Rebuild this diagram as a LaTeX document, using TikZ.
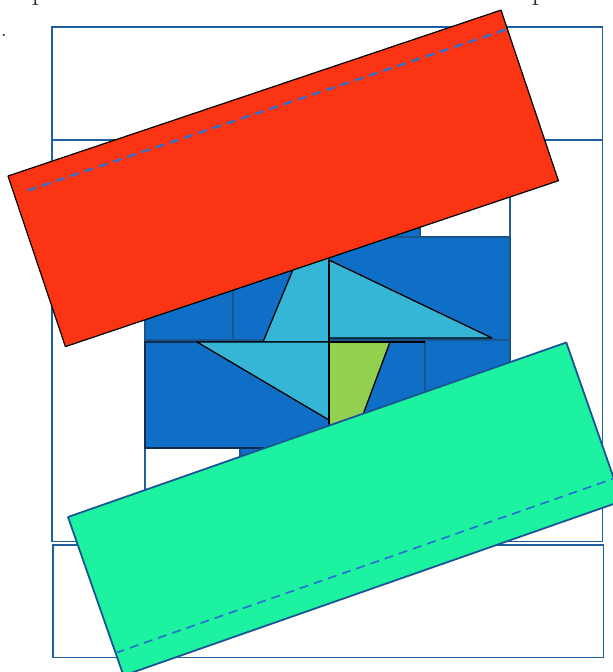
\documentclass[tikz,border=0pt]{standalone}
\usetikzlibrary{calc}
\definecolor{framecol}{RGB}{31,95,158}
\definecolor{tilefill}{RGB}{15,111,198}
\definecolor{tiledraw}{RGB}{26,84,140}
\definecolor{tiledark}{RGB}{14,45,80}
\definecolor{cyanfill}{RGB}{54,182,214}
\definecolor{lgreen}{RGB}{146,208,80}
\definecolor{redfill}{RGB}{251,52,20}
\definecolor{mint}{RGB}{29,242,160}
\definecolor{mintdraw}{RGB}{26,86,150}
\definecolor{dashblue}{RGB}{40,112,210}
\tikzset{
  framebox/.style={draw=framecol,line width=1.8pt},
  tilebox/.style={fill=tilefill,draw=tiledraw,line width=1.6pt},
  tileboxdark/.style={fill=tilefill,draw=tiledark,line width=1.6pt},
  cyanpiece/.style={fill=cyanfill,draw=black,line width=1.3pt,line join=round},
  greenpiece/.style={fill=lgreen,draw=black,line width=1.3pt,line join=round},
  redflap/.style={fill=redfill,draw=black,line width=1.2pt,line join=round},
  mintflap/.style={fill=mint,draw=mintdraw,line width=1.8pt,line join=round},
  foldline/.style={draw=dashblue,dashed,dash pattern=on 9pt off 6pt},
  cuttext/.style={inner sep=0pt,text=black!85}
}
\begin{document}
\begin{tikzpicture}[x=1pt,y=-1pt]
\useasboundingbox (0,0) rectangle (613,672);
\clip (0,0) rectangle (613,672);
% cut-off text remnants (cut at the top edge, as in the reference)
\node[cuttext,anchor=base west,font=\fontsize{30}{36}\selectfont] (p1) at (31.5,-1) {p};
\node[cuttext,anchor=base west,font=\fontsize{30}{36}\selectfont] (p2) at (531.5,-1) {p};
\node[cuttext,anchor=base,font=\fontsize{26}{30}\selectfont] (dot) at (4,36) {.};
% frames
\draw[framebox] (52,27) rectangle (602.5,541.5);
\draw[framebox] (52,140) -- (602.5,140);
\draw[framebox] (53,545) rectangle (603.5,657.5);
\draw[framebox,fill=white] (145,140) rectangle (510,541.5);
% tiles
\draw[tilebox] (145,140) rectangle (420,237);
\draw[tilebox] (145,237) rectangle (233,340);
\draw[tilebox] (233,237) rectangle (510,340);
\draw[tilebox] (240,342) rectangle (425,455);
\draw[tilebox] (425,340) rectangle (510,541.5);
\draw[tileboxdark] (145,342) rectangle (330,448);
% centre pieces
\draw[cyanpiece] (329,260) -- (492,338) -- (329,338) -- cycle;
\draw[cyanpiece] (263,342) -- (299,255) -- (329,255) -- (329,342) -- cycle;
\draw[cyanpiece] (197,342) -- (329,342) -- (329,420) -- cycle;
\draw[greenpiece] (329,342) -- (390,342) -- (358,428) -- (329,428) -- cycle;
\draw[black,line width=2pt] (329,260) -- (329,424);
\draw[black,line width=2pt] (329,342) -- (425,342);
% red flap
\coordinate (rA) at (8,176);
\coordinate (rB) at (501,10.1);
\coordinate (rC) at (558.4,180.7);
\coordinate (rD) at (65.4,346.6);
\draw[redflap] (rA) -- (rB) -- (rC) -- (rD) -- cycle;
\coordinate (rs) at (27.7,190.5);
\coordinate (re) at (507.4,29.1);
\draw[foldline,line width=2.2pt] (rs) -- (re);
% mint flap
\coordinate (gA) at (68,517);
\coordinate (gB) at (566.3,342.5);
\coordinate (gC) at (621.8,501.1);
\coordinate (gD) at (123.5,675.6);
\draw[mintflap] (gA) -- (gB) -- (gC) -- (gD) -- cycle;
\coordinate (gs) at (115.6,652.9);
\coordinate (ge) at (613.9,478.5);
\draw[foldline,line width=1.7pt] (gs) -- (ge);
\end{tikzpicture}
\end{document}
